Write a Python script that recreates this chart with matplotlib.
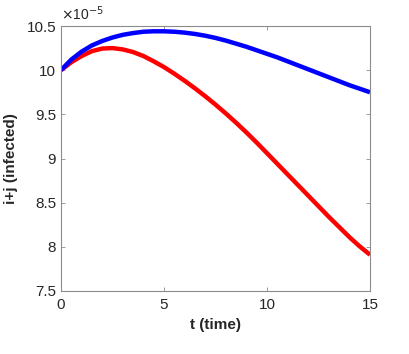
import matplotlib
matplotlib.use("Agg")
import matplotlib.pyplot as plt

plt.rcParams['font.family'] = ['Liberation Sans', 'DejaVu Sans']

# values, in units of 1e-5
t = [0, 0.5, 1, 1.5, 2, 2.5, 3, 3.5, 4, 4.5, 5, 5.5, 6, 6.5, 7, 7.5,
     8, 8.5, 9, 9.5, 10, 10.5, 11, 11.5, 12, 12.5, 13, 13.5, 14, 14.5, 15]
red = [10.00, 10.09, 10.16, 10.215, 10.245, 10.25, 10.235, 10.205, 10.16, 10.10,
       10.035, 9.96, 9.88, 9.795, 9.705, 9.61, 9.51, 9.405, 9.295, 9.18,
       9.06, 8.94, 8.82, 8.70, 8.58, 8.46, 8.34, 8.225, 8.11, 8.005, 7.91]
blue = [10.00, 10.12, 10.21, 10.28, 10.33, 10.37, 10.40, 10.42, 10.435, 10.44,
        10.44, 10.435, 10.425, 10.41, 10.39, 10.365, 10.335, 10.30, 10.265, 10.225,
        10.185, 10.145, 10.10, 10.055, 10.01, 9.965, 9.92, 9.875, 9.83, 9.79, 9.75]

xticks = [0, 5, 10, 15]
yticks = [7.5, 8, 8.5, 9, 9.5, 10, 10.5]
ytick_labels = ['7.5', '8', '8.5', '9', '9.5', '10', '10.5']

fig = plt.figure(figsize=(4.09, 3.54), dpi=100)
ax = fig.add_axes([61 / 409, 1 - 291 / 354, 309 / 409, 265 / 354])

ax.plot(t, red, color='#ff0000', lw=3.2, solid_capstyle='butt')
ax.plot(t, blue, color='#0000ff', lw=3.2, solid_capstyle='butt')

ax.set_xlim(0, 15)
ax.set_ylim(7.5, 10.5)
ax.set_xticks(xticks)
ax.set_yticks(yticks)
ax.set_yticklabels(ytick_labels)

gray = '#262626'
for s in ax.spines.values():
    s.set_color('#8c8c8c')
    s.set_linewidth(0.8)
ax.tick_params(direction='in', length=3, width=0.6, color='#8c8c8c',
               labelcolor=gray, labelsize=11, top=True, right=True)
ax.tick_params(axis='x', pad=5)

ax.set_xlabel('t (time)', fontsize=11, fontweight='bold', color=gray, labelpad=4)
ax.set_ylabel('i+j (infected)', fontsize=11, fontweight='bold', color=gray, labelpad=6)

ax.text(0.0, 1.01, r'$\times$10$^{-5}$', transform=ax.transAxes,
        fontsize=10, color=gray, ha='left', va='bottom')

fig.savefig('out.png', dpi=100)
